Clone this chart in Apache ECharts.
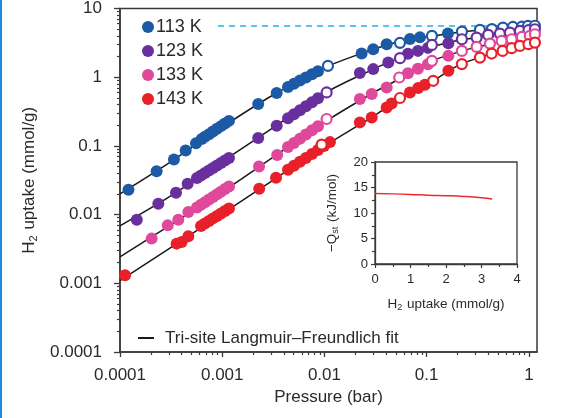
<!DOCTYPE html>
<html>
<head>
<meta charset="utf-8">
<script src="https://cdn.jsdelivr.net/npm/echarts@6/dist/echarts.min.js"></script>
<style>
  html, body { margin: 0; padding: 0; background: #fff; }
  #chart { width: 564px; height: 418px; }
</style>
</head>
<body>
<div id="chart"></div>
<script>
// isotherm data, [pressure (bar), uptake (mmol/g)]
const ads113 = [[1.21e-4, 0.0230], [2.28e-4, 0.0428], [3.37e-4, 0.0633], [4.39e-4, 0.0855], [5.54e-4, 0.109],
  [6.3e-4, 0.1264], [6.78e-4, 0.1355], [7.42e-4, 0.1483], [8.12e-4, 0.1623], [8.89e-4, 0.1777], [9.72e-4, 0.194],
  [1.064e-3, 0.2122], [1.164e-3, 0.2313], [2.25e-3, 0.407], [3.41e-3, 0.588],
  [4.40e-3, 0.720], [5.03e-3, 0.802], [5.76e-3, 0.893], [6.59e-3, 0.99], [7.55e-3, 1.102], [8.64e-3, 1.222],
  [0.0231, 2.21], [0.0300, 2.56], [0.0406, 3.02], [0.0686, 3.61], [0.0859, 3.80], [0.1614, 4.31]];
const des113 = [[0.01082, 1.464], [0.0548, 3.16], [0.1125, 3.99], [0.2212, 4.61], [0.3318, 4.88], [0.4346, 5.0],
  [0.557, 5.27], [0.697, 5.39], [0.854, 5.43], [0.978, 5.57], [1.145, 5.61]];

const ads123 = [[1.46e-4, 0.00843], [2.37e-4, 0.0144], [3.53e-4, 0.0208], [4.59e-4, 0.0281],
  [5.66e-4, 0.0341], [6.2e-4, 0.0371], [6.78e-4, 0.0403], [7.42e-4, 0.0438], [8.12e-4, 0.0476], [8.89e-4, 0.0518],
  [9.72e-4, 0.0565], [1.064e-3, 0.0614], [1.164e-3, 0.0668], [2.25e-3, 0.1306], [3.41e-3, 0.197],
  [4.40e-3, 0.253], [5.03e-3, 0.289], [5.76e-3, 0.331], [6.59e-3, 0.378], [7.55e-3, 0.432], [8.64e-3, 0.494],
  [0.0222, 1.147], [0.0300, 1.311], [0.0421, 1.635], [0.0656, 2.186], [0.0821, 2.416], [0.1028, 2.672], [0.163, 3.126]];
const des123 = [[0.0105, 0.60], [0.0548, 1.894], [0.1125, 2.953], [0.221, 3.57], [0.308, 3.77], [0.40, 4.125],
  [0.52, 4.31], [0.652, 4.46], [0.817, 4.72], [0.99, 4.83], [1.145, 4.99]];

const ads133 = [[2.04e-4, 0.00447], [2.93e-4, 0.00697], [3.72e-4, 0.00843], [4.66e-4, 0.01087],
  [5.66e-4, 0.01272], [6.2e-4, 0.01388], [6.78e-4, 0.01514], [7.42e-4, 0.01656], [8.12e-4, 0.01807], [8.89e-4, 0.0197],
  [9.72e-4, 0.0215], [1.064e-3, 0.02353], [1.164e-3, 0.02566], [2.29e-3, 0.0501], [3.45e-3, 0.074],
  [4.40e-3, 0.0961], [5.03e-3, 0.1105], [5.76e-3, 0.1272], [6.59e-3, 0.1464], [7.55e-3, 0.1684], [8.64e-3, 0.1938],
  [0.0222, 0.481], [0.0290, 0.5685], [0.0406, 0.709], [0.0656, 1.139], [0.0821, 1.324], [0.1028, 1.539], [0.163, 2.044]];
const des133 = [[0.0105, 0.2465], [0.0539, 0.99], [0.1125, 1.73], [0.221, 2.416], [0.308, 2.762], [0.4156, 3.085],
  [0.541, 3.375], [0.677, 3.57], [0.854, 3.86], [1.02, 3.99], [1.145, 4.22]];

const ads143 = [[1.12e-4, 0.00131], [3.58e-4, 0.00378], [4.01e-4, 0.00399], [4.66e-4, 0.00483],
  [6.2e-4, 0.00685], [6.78e-4, 0.00745], [7.42e-4, 0.0081], [8.12e-4, 0.00881], [8.89e-4, 0.00957], [9.72e-4, 0.0104],
  [1.064e-3, 0.01131], [1.164e-3, 0.0123], [2.30e-3, 0.02377], [3.36e-3, 0.0343],
  [4.40e-3, 0.04486], [5.03e-3, 0.0513], [5.76e-3, 0.0586], [6.59e-3, 0.0668], [7.55e-3, 0.0763], [8.64e-3, 0.0872],
  [9.89e-3, 0.0993], [0.01132, 0.1135], [0.0222, 0.22], [0.0290, 0.26], [0.0406, 0.363], [0.0454, 0.415],
  [0.0686, 0.5997], [0.0827, 0.695], [0.0962, 0.776], [0.163, 1.239]];
const des143 = [[9.39e-3, 0.1044], [0.0548, 0.4976], [0.1159, 0.887], [0.221, 1.55], [0.3318, 1.93], [0.4317, 2.21],
  [0.553, 2.416], [0.677, 2.645], [0.817, 2.857], [0.99, 3.02], [1.145, 3.19]];

// fitted curves
const pFit = [1e-4, 3e-4, 1e-3, 3e-3, 0.01, 0.03, 0.05, 0.1, 0.2, 0.3, 0.5, 1, 1.2];
const fit113 = [0.020, 0.0563, 0.188, 0.528, 1.378, 2.55, 3.21, 3.86, 4.49, 4.79, 5.18, 5.53, 5.61];
const fit123 = [0.00685, 0.0179, 0.0592, 0.1753, 0.584, 1.311, 1.82, 2.645, 3.43, 3.754, 4.27, 4.84, 4.97];
const fit133 = [0.00243, 0.0068, 0.02135, 0.0654, 0.2215, 0.594, 0.887, 1.618, 2.30, 2.716, 3.21, 3.93, 4.20];
const fit143 = [0.00109, 0.00318, 0.01024, 0.0303, 0.0993, 0.27, 0.44, 0.776, 1.464, 1.849, 2.34, 3.05, 3.21];

const satLine = [[9.1e-4, 5.57], [1.2, 5.57]];

// inset: isosteric heat
const qstUptake = [0, 0.5, 1, 1.5, 2, 2.5, 3, 3.3];
const qstValue = [13.8, 13.75, 13.65, 13.5, 13.4, 13.25, 13.0, 12.75];

const temps = ['113 K', '123 K', '133 K', '143 K'];
const colors = ['#1c5aa6', '#6a2f9e', '#e0489b', '#e8202a'];
const xMajor = [1e-4, 1e-3, 1e-2, 1e-1, 1];
const yMajor = [1e-4, 1e-3, 1e-2, 1e-1, 1, 10];

const fitName = 'Tri-site Langmuir–Freundlich fit';
const font = 'Liberation Sans, Arial, sans-serif';
const ink = '#2a2a2a';

// minor ticks at 2..9 of each decade
function minorTicks(lo, hi) {
  const out = [];
  for (let e = lo; e < hi; e++) {
    for (let k = 2; k <= 9; k++) out.push(+(k * Math.pow(10, e)).toPrecision(3));
  }
  return out;
}

const chart = echarts.init(document.getElementById('chart'));

const ads = [ads113, ads123, ads133, ads143];
const des = [des113, des123, des133, des143];
const fits = [fit113, fit123, fit133, fit143];

const series = [];
fits.forEach((f) => {
  series.push({
    name: fitName,
    type: 'line',
    xAxisIndex: 0, yAxisIndex: 0,
    data: pFit.map((p, i) => [p, f[i]]),
    smooth: 0.3,
    showSymbol: false,
    color: '#1a1a1a',
    lineStyle: { color: '#1a1a1a', width: 1.5 },
    z: 2
  });
});
series.push({
  name: 'sat',
  type: 'line',
  xAxisIndex: 0, yAxisIndex: 0,
  data: satLine,
  showSymbol: false,
  lineStyle: { color: '#29aee6', width: 1.5, type: [6, 5] },
  z: 1
});
temps.forEach((t, i) => {
  series.push({
    name: t,
    type: 'scatter',
    xAxisIndex: 0, yAxisIndex: 0,
    data: ads[i],
    symbol: 'circle',
    symbolSize: 12,
    itemStyle: { color: colors[i], opacity: 1 },
    z: 3
  });
  series.push({
    name: t + ' des',
    type: 'scatter',
    xAxisIndex: 0, yAxisIndex: 0,
    data: des[i],
    symbol: 'circle',
    symbolSize: 10,
    itemStyle: { color: '#fff', borderColor: colors[i], borderWidth: 2.2, opacity: 1 },
    z: 4
  });
});
series.push({
  name: 'Qst',
  type: 'line',
  xAxisIndex: 2, yAxisIndex: 2,
  data: qstUptake.map((u, i) => [u, qstValue[i]]),
  smooth: true,
  showSymbol: false,
  lineStyle: { color: '#ee2a2a', width: 1.5 },
  z: 5
});

const subRich = (size, sub, lh) => ({
  a: { fontSize: size, color: ink, fontFamily: font, lineHeight: lh },
  s: { fontSize: sub, color: ink, fontFamily: font, lineHeight: lh, verticalAlign: 'bottom', padding: [0, 1, 0, 0] }
});

const option = {
  animation: false,
  backgroundColor: '#fff',
  textStyle: { fontFamily: font },
  graphic: [{
    type: 'rect',
    left: 0, top: 0,
    shape: { width: 2, height: 418 },
    style: { fill: '#1e8be0' }
  }],
  legend: [{
    data: temps,
    orient: 'vertical',
    left: 137, top: 12,
    icon: 'circle',
    itemWidth: 12, itemHeight: 12,
    itemGap: 4,
    textStyle: { fontSize: 18, color: ink, fontFamily: font, lineHeight: 20, padding: [0, 0, 0, -3] },
    selectedMode: false
  }, {
    data: [{ name: fitName, icon: 'rect' }],
    left: 133, top: 323,
    itemWidth: 16, itemHeight: 2,
    textStyle: { fontSize: 17, color: ink, fontFamily: font, lineHeight: 20, padding: [0, 0, 0, 6] },
    selectedMode: false
  }],
  grid: [
    { left: 120, top: 7, right: 27, bottom: 66, show: true, borderColor: '#3a3a3a', borderWidth: 1.5, backgroundColor: 'transparent' },
    { left: 375, top: 162, right: 47, bottom: 154, show: true, borderColor: '#3a3a3a', borderWidth: 1.3, backgroundColor: '#fff' }
  ],
  xAxis: [{
    type: 'log', gridIndex: 0, position: 'bottom',
    min: 1e-4, max: 1.2,
    name: 'Pressure (bar)', nameLocation: 'middle', nameGap: 37,
    nameTextStyle: { fontSize: 17, color: ink, fontFamily: font },
    axisLine: { show: true, lineStyle: { color: '#3a3a3a', width: 1.5 } },
    axisTick: { show: true, customValues: xMajor, length: 5, lineStyle: { color: '#3a3a3a', width: 1.3 } },
    axisLabel: { customValues: xMajor, fontSize: 17, color: ink, margin: 15, fontFamily: font,
      formatter: (v) => String(+(+v).toPrecision(2)) },
    splitLine: { show: false }
  }, {
    type: 'log', gridIndex: 0, position: 'bottom',
    min: 1e-4, max: 1.2,
    axisLine: { show: false },
    axisTick: { show: true, customValues: minorTicks(-4, 0), length: 3, lineStyle: { color: '#3a3a3a', width: 1.2 } },
    axisLabel: { show: false },
    splitLine: { show: false }
  }, {
    type: 'value', gridIndex: 1,
    min: 0, max: 4, interval: 1,
    name: '{a|H}{s|2}{a| uptake (mmol/g)}', nameLocation: 'middle', nameGap: 32,
    nameTextStyle: { color: ink, rich: subRich(13.5, 9, 16) },
    axisLine: { lineStyle: { color: '#3a3a3a', width: 1.3 } },
    axisTick: { length: 4, lineStyle: { color: '#3a3a3a', width: 1.2 } },
    minorTick: { show: true, splitNumber: 2, length: 3, lineStyle: { color: '#3a3a3a', width: 1.2 } },
    axisLabel: { fontSize: 13, color: ink, margin: 9, fontFamily: font },
    splitLine: { show: false }
  }],
  yAxis: [{
    type: 'log', gridIndex: 0, position: 'left',
    min: 1e-4, max: 10,
    name: '{a|H}{s|2}{a| uptake (mmol/g)}', nameLocation: 'middle', nameGap: 76, nameRotate: 90,
    nameTextStyle: { color: ink, rich: subRich(17, 11, 20) },
    axisLine: { show: true, lineStyle: { color: '#3a3a3a', width: 1.5 } },
    axisTick: { show: true, customValues: yMajor, length: 6, lineStyle: { color: '#3a3a3a', width: 1.3 } },
    axisLabel: { customValues: yMajor, fontSize: 17, color: ink, margin: 18, fontFamily: font,
      formatter: (v) => String(+(+v).toPrecision(2)) },
    splitLine: { show: false }
  }, {
    type: 'log', gridIndex: 0, position: 'left',
    min: 1e-4, max: 10,
    axisLine: { show: false },
    axisTick: { show: true, customValues: minorTicks(-4, 1), length: 3, lineStyle: { color: '#3a3a3a', width: 1.2 } },
    axisLabel: { show: false },
    splitLine: { show: false }
  }, {
    type: 'value', gridIndex: 1,
    min: 0, max: 20, interval: 5,
    name: '{a|−Q}{s|st}{a| (kJ/mol)}', nameLocation: 'middle', nameGap: 35, nameRotate: 90,
    nameTextStyle: { color: ink, rich: subRich(13.5, 9, 16) },
    axisLine: { lineStyle: { color: '#3a3a3a', width: 1.3 } },
    axisTick: { length: 4, lineStyle: { color: '#3a3a3a', width: 1.2 } },
    minorTick: { show: true, splitNumber: 2, length: 3, lineStyle: { color: '#3a3a3a', width: 1.2 } },
    axisLabel: { fontSize: 13, color: ink, margin: 7, fontFamily: font },
    splitLine: { show: false }
  }],
  series: series
};

chart.setOption(option);
window.addEventListener('resize', () => chart.resize());
</script>
</body>
</html>
